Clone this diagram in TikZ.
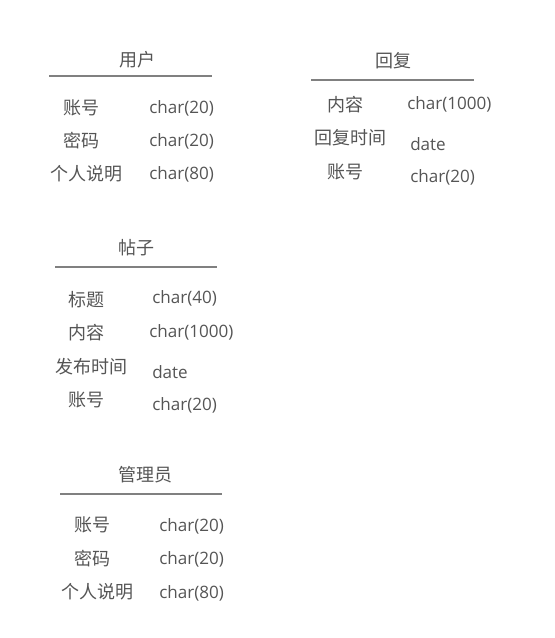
\documentclass[tikz,border=0pt]{standalone}
\usepackage{fontspec}
\setmainfont{Open Sans}
\newfontfamily\cjk{Noto Sans CJK SC}
\definecolor{txt}{HTML}{555555}
\definecolor{rule}{HTML}{808080}
\begin{document}
\begin{tikzpicture}[x=0.75pt,y=-0.75pt,
  cn/.style={font=\cjk\fontsize{13.5}{16}\selectfont, text=txt, inner sep=0pt, anchor=center, yshift=-1.5pt},
  ty/.style={font=\fontsize{12.8}{16}\selectfont, text=txt, inner sep=0pt, anchor=west, yshift=-1.5pt},
  hr/.style={draw=rule, line width=1.1pt}]
\useasboundingbox (0,0) rectangle (554,638);
% 用户
\node[cn] (u) at (137,58) {用户};
\coordinate (u1) at (49,76); \coordinate (u2) at (212,76);
\draw[hr] (u1) -- (u2);
\node[cn] (ua) at (81,106) {账号};   \node[ty] (uat) at (149,106) {char(20)};
\node[cn] (ub) at (81,139) {密码};   \node[ty] (ubt) at (149,139) {char(20)};
\node[cn] (uc) at (86,172) {个人说明}; \node[ty] (uct) at (149,172) {char(80)};
% 回复
\node[cn] (r) at (393,59) {回复};
\coordinate (r1) at (311,80); \coordinate (r2) at (474,80);
\draw[hr] (r1) -- (r2);
\node[cn] (ra) at (345,103) {内容};   \node[ty] (rat) at (407,102) {char(1000)};
\node[cn] (rb) at (350,136) {回复时间}; \node[ty] (rbt) at (410,142) {date};
\node[cn] (rc) at (345,170) {账号};   \node[ty] (rct) at (410,175) {char(20)};
% 帖子
\node[cn] (p) at (136,246) {帖子};
\coordinate (p1) at (55,267); \coordinate (p2) at (217,267);
\draw[hr] (p1) -- (p2);
\node[cn] (pa) at (86,298) {标题};   \node[ty] (pat) at (152,296) {char(40)};
\node[cn] (pb) at (86,331) {内容};   \node[ty] (pbt) at (149,330) {char(1000)};
\node[cn] (pc) at (91,365) {发布时间}; \node[ty] (pct) at (152,370) {date};
\node[cn] (pd) at (86,398) {账号};   \node[ty] (pdt) at (152,403) {char(20)};
% 管理员
\node[cn] (m) at (145,473) {管理员};
\coordinate (m1) at (60,494); \coordinate (m2) at (222,494);
\draw[hr] (m1) -- (m2);
\node[cn] (ma) at (92,523) {账号};   \node[ty] (mat) at (159,524) {char(20)};
\node[cn] (mb) at (92,557) {密码};   \node[ty] (mbt) at (159,557) {char(20)};
\node[cn] (mc) at (97,590) {个人说明}; \node[ty] (mct) at (159,591) {char(80)};
\end{tikzpicture}
\end{document}
